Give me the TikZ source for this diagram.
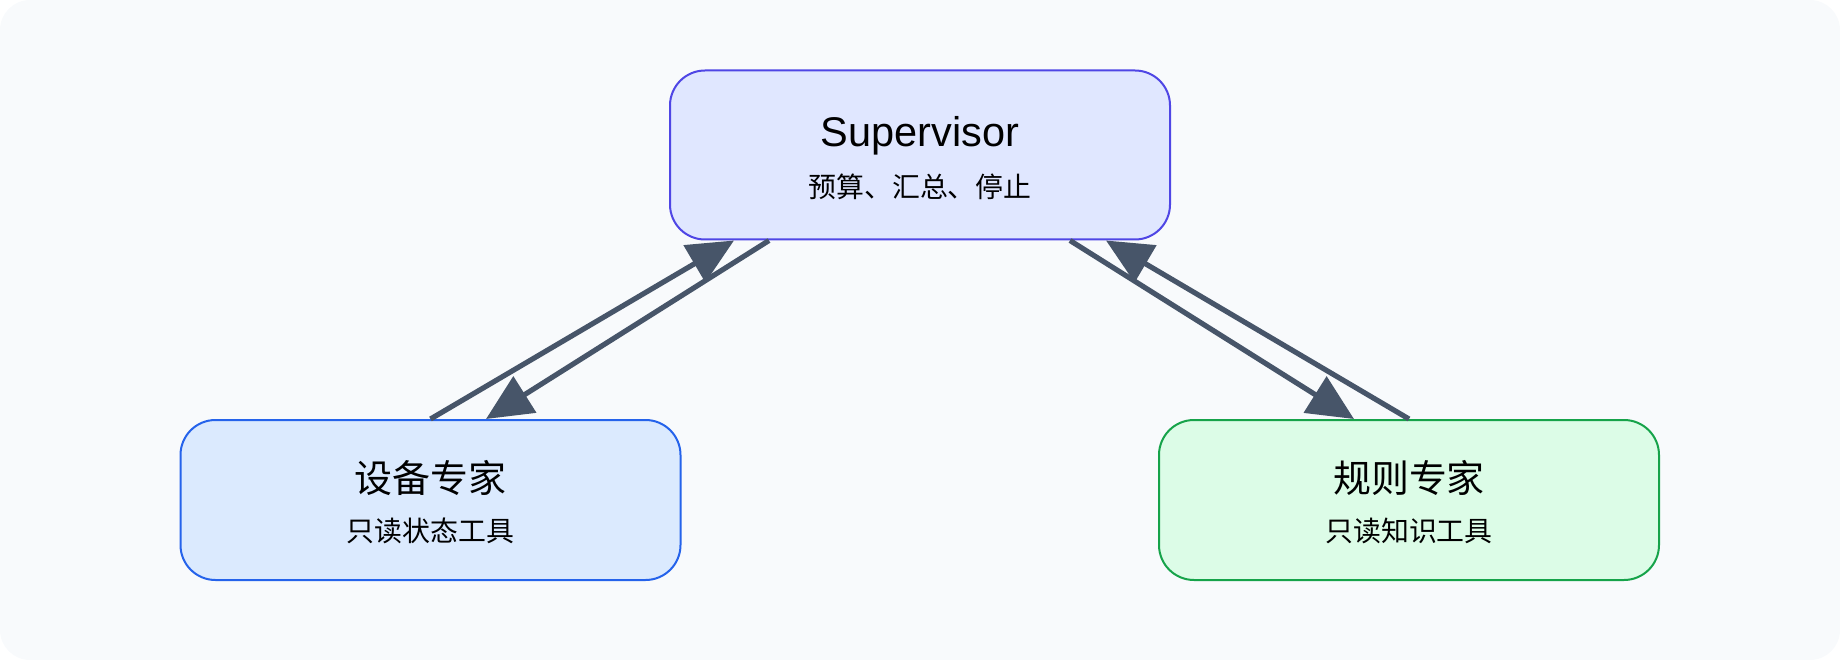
\documentclass[tikz,border=0pt]{standalone}
\usepackage{fontspec}
\setmainfont{Liberation Sans}
\newfontfamily\cjk{Noto Sans CJK SC}[Scale=0.915]
\usetikzlibrary{arrows.meta,calc}
\definecolor{canvasFill}{HTML}{F8FAFC}
\definecolor{supervisorFill}{HTML}{E0E7FF}
\definecolor{supervisorDraw}{HTML}{4F46E5}
\definecolor{deviceFill}{HTML}{DBEAFE}
\definecolor{deviceDraw}{HTML}{2563EB}
\definecolor{ruleFill}{HTML}{DCFCE7}
\definecolor{ruleDraw}{HTML}{16A34A}
\definecolor{handoffColor}{HTML}{475569}
\newcommand\boxtitle[1]{{\fontsize{41.5}{49}\selectfont\rule{0pt}{36pt}#1}}

\begin{document}
\begin{tikzpicture}[
  x=1pt,
  y=-1pt,
  agent box/.style={
    rounded corners=35pt,
    line width=2pt,
    minimum width=500pt,
    minimum height=160pt,
    align=center,
    inner sep=0pt,
    font=\fontsize{30.5}{36}\selectfont,
  },
  supervisor box/.style={
    agent box,
    draw=supervisorDraw,
    fill=supervisorFill,
    minimum height=169pt,
  },
  device box/.style={
    agent box,
    draw=deviceDraw,
    fill=deviceFill,
  },
  rule box/.style={
    agent box,
    draw=ruleDraw,
    fill=ruleFill,
  },
  handoff/.style={
    draw=handoffColor,
    line width=5.2pt,
    -{Triangle[length=46pt,width=42pt]},
  },
]
\useasboundingbox (0,0) rectangle (1840,660);
\fill[canvasFill,rounded corners=30pt] (0,0) rectangle (1840,660);

\node[supervisor box] (sup) at (920,155)
  {\boxtitle{Supervisor}\\[15pt]\cjk 预算、汇总、停止};
\node[device box] (dev) at (430.5,500)
  {\boxtitle{\cjk 设备专家}\\[13pt]\cjk 只读状态工具};
\node[rule box] (rule) at (1409,500)
  {\boxtitle{\cjk 规则专家}\\[13pt]\cjk 只读知识工具};

\draw[handoff] (dev.north) -- ($(sup.south)+(-186,0)$);
\draw[handoff] ($(sup.south)+(-151,0)$) -- ($(dev.north)+(55.5,0)$);
\draw[handoff] ($(sup.south)+(150,0)$) -- ($(rule.north)+(-55,0)$);
\draw[handoff] (rule.north) -- ($(sup.south)+(186,0)$);
\end{tikzpicture}
\end{document}
